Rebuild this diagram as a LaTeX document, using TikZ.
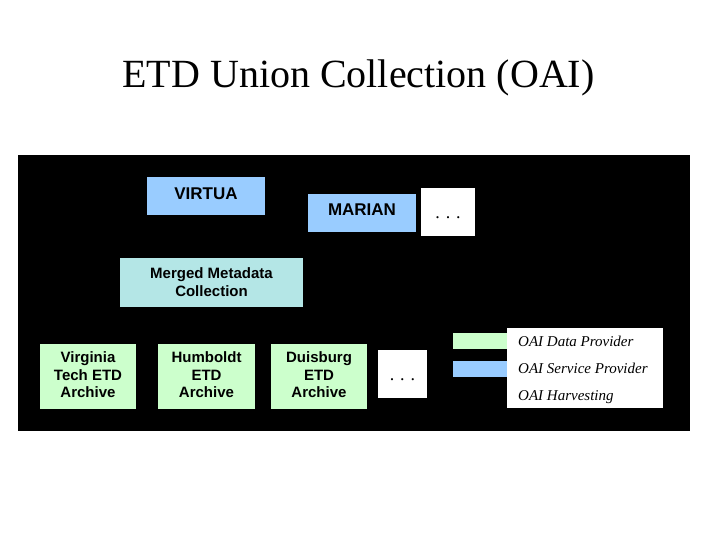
\documentclass[tikz,border=0pt]{standalone}
\usepackage{fontspec}
\setmainfont{Liberation Serif}
\setsansfont{Liberation Sans}
\definecolor{oaiblue}{HTML}{99CCFF}
\definecolor{oaigreen}{HTML}{CCFFCC}
\definecolor{oaicyan}{HTML}{B4E6E6}
\begin{document}
\begin{tikzpicture}[x=1pt,y=1pt,
  box/.style={inner sep=0pt,outer sep=0pt,align=center,font=\sffamily\bfseries\fontsize{15}{17.5}\selectfont,text=black},
  bluebox/.style={box,fill=oaiblue,font=\sffamily\bfseries\fontsize{17}{19}\selectfont},
  greenbox/.style={box,fill=oaigreen},
  cyanbox/.style={box,fill=oaicyan,font=\sffamily\bfseries\fontsize{15}{18}\selectfont},
  dotbox/.style={box,fill=white},
  dottext/.style={inner sep=0pt,font=\fontsize{18}{20}\selectfont},
  legtext/.style={inner sep=0pt,anchor=base west,font=\itshape\fontsize{15}{17}\selectfont}]
\useasboundingbox (0,0) rectangle (720,-540);
\fill[white] (0,0) rectangle (720,-540);
\node[anchor=base,inner sep=0pt,font=\fontsize{40}{44}\selectfont] (title) at (358.5,-88) {ETD Union Collection (OAI)};
\fill[black] (18,-155) rectangle (690,-431);
\node[bluebox,minimum width=118pt,minimum height=38pt] (virtua) at (206,-196) {\raisebox{4pt}{VIRTUA}};
\node[bluebox,minimum width=108pt,minimum height=38pt] (marian) at (362,-213) {\raisebox{6pt}{MARIAN}};
\node[dotbox,minimum width=54pt,minimum height=48pt] (dots1) at (448,-212) {};
\node[dottext] (dt1) at ([yshift=-6pt]dots1.center) {.\hspace{6pt}.\hspace{6pt}.};
\node[cyanbox,minimum width=183pt,minimum height=49pt] (merged) at (211.5,-282.5) {Merged Metadata\\Collection};
\node[greenbox,minimum width=96pt,minimum height=65pt] (vt) at (88,-376.5) {\raisebox{2pt}{\begin{tabular}{@{}c@{}}Virginia\\Tech ETD\\Archive\end{tabular}}};
\node[greenbox,minimum width=97pt,minimum height=65pt] (hu) at (206.5,-376.5) {\raisebox{2pt}{\begin{tabular}{@{}c@{}}Humboldt\\ETD\\Archive\end{tabular}}};
\node[greenbox,minimum width=96pt,minimum height=65pt] (du) at (319,-376.5) {\raisebox{2pt}{\begin{tabular}{@{}c@{}}Duisburg\\ETD\\Archive\end{tabular}}};
\node[dotbox,minimum width=49pt,minimum height=48pt] (dots2) at (402.5,-374) {};
\node[dottext] (dt2) at ([yshift=-6pt]dots2.center) {.\hspace{6pt}.\hspace{6pt}.};
\node[box,fill=white,minimum width=156pt,minimum height=80pt] (legend) at (585,-368) {};
\node[box,fill=oaigreen,minimum width=54pt,minimum height=16pt] (gbar) at (480,-341) {};
\node[box,fill=oaiblue,minimum width=54pt,minimum height=16pt] (bbar) at (480,-369) {};
\node[legtext] (l1) at (518,-346) {OAI Data Provider};
\node[legtext] (l2) at (518,-373) {OAI Service Provider};
\node[legtext] (l3) at (518,-400) {OAI Harvesting};
\end{tikzpicture}
\end{document}
